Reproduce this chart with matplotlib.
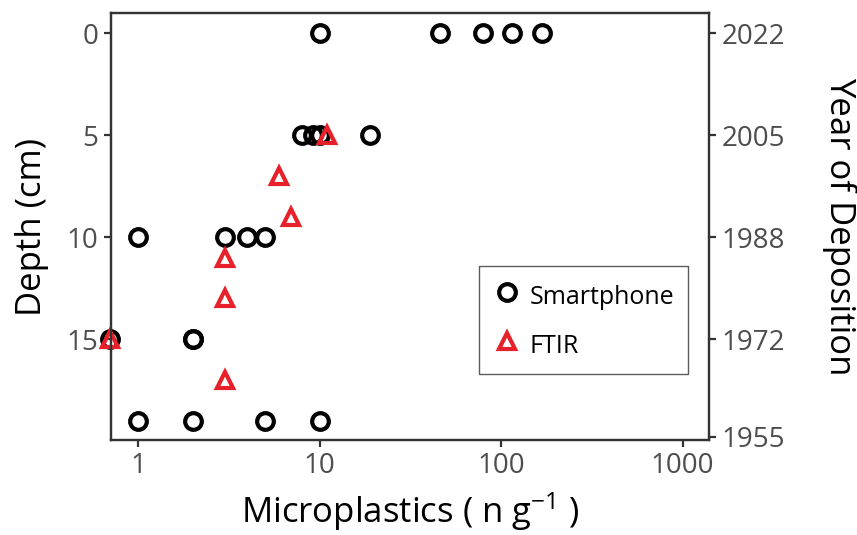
import matplotlib.pyplot as plt
import matplotlib as mpl

mpl.rcParams.update({
    'font.family': ['Open Sans', 'DejaVu Sans'],
    'mathtext.fontset': 'custom',
    'mathtext.rm': 'Open Sans',
    'mathtext.it': 'Open Sans',
    'mathtext.default': 'regular',
})

# Smartphone counts (n per g) by depth (cm)
phone_depth = [0, 0, 0, 0, 0,
               5, 5, 5, 5,
               10, 10, 10, 10,
               15, 15, 15,
               19, 19, 19, 19]
phone_mp = [10, 46, 80, 115, 168,
            8, 9.2, 10, 19,
            1, 3, 4, 5,
            0.7, 2, 2,
            1, 2, 5, 10]

# FTIR counts
ftir_depth = [5, 7, 9, 11, 13, 15, 17]
ftir_mp = [11, 6, 7, 3, 3, 0.7, 3]

depth_ticks = [0, 5, 10, 15]
year_pos = [0, 5, 10, 15, 19.8]
year_labels = ['2022', '2005', '1988', '1972', '1955']

spine_col = '#333333'
tick_col = '#4d4d4d'
red = '#e8202a'

fig = plt.figure(figsize=(8.57, 5.35), dpi=100)
ax = fig.add_axes([0.1295, 0.1776, 0.698, 0.798])

ax.plot(phone_mp, phone_depth, 'o', ms=12, mfc='none', mec='black', mew=3,
        label='Smartphone', clip_on=False, zorder=3)
ax.plot(ftir_mp, ftir_depth, '^', ms=12, mfc='none', mec=red, mew=3,
        label='FTIR', clip_on=False, zorder=4)

ax.set_xscale('log')
ax.set_xlim(0.71, 1400)
ax.set_ylim(19.95, -1)
ax.set_xticks([1, 10, 100, 1000])
ax.set_xticklabels(['1', '10', '100', '1000'])
ax.xaxis.set_minor_locator(mpl.ticker.NullLocator())
ax.set_yticks(depth_ticks)

ax.set_xlabel('Microplastics ( n g$^{\u2212 1}$ )', fontsize=25, labelpad=7)
ax.set_ylabel('Depth (cm)', fontsize=25, labelpad=13)

ax2 = ax.twinx()
ax2.set_ylim(ax.get_ylim())
ax2.set_yticks(year_pos)
ax2.set_yticklabels(year_labels)
ax2.set_ylabel('Year of Deposition', fontsize=25, rotation=270, labelpad=52)

for a in (ax, ax2):
    for s in a.spines.values():
        s.set_color(spine_col)
        s.set_linewidth(1.6)
    a.tick_params(axis='both', which='major', labelsize=20, colors=spine_col,
                  labelcolor=tick_col, length=5, width=1.6, pad=4)

leg = ax.legend(loc='center', bbox_to_anchor=(0.79, 0.28), fontsize=18,
                frameon=True, fancybox=False, edgecolor=spine_col,
                borderpad=0.55, handletextpad=0.3, labelspacing=0.65,
                handlelength=1.2, handleheight=1.6, borderaxespad=0)
leg.get_frame().set_linewidth(1.0)

fig.savefig('out.png', dpi=100)
